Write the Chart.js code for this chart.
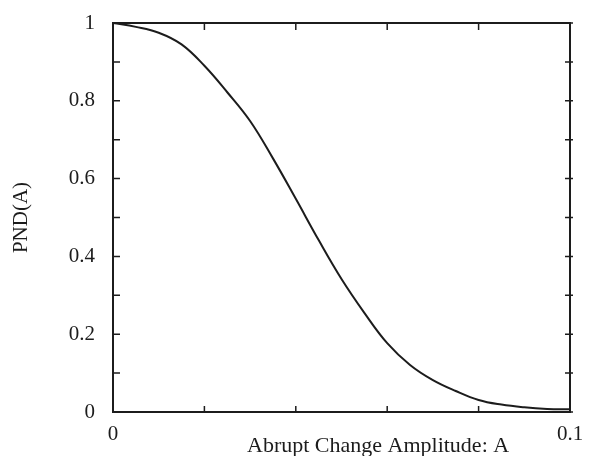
<!DOCTYPE html>
<html>
<head>
<meta charset="utf-8">
<script src="https://cdn.jsdelivr.net/npm/chart.js@4"></script>
<style>
  html, body { margin: 0; padding: 0; background: #fff; }
  #wrap { width: 596px; height: 456px; }
</style>
</head>
<body>
<div id="wrap"><canvas id="pndChart" width="596" height="456"></canvas></div>
<script>
// values
const amplitude = [0, 0.005, 0.01, 0.015, 0.02, 0.025, 0.03, 0.035, 0.04, 0.045, 0.05,
                   0.055, 0.06, 0.065, 0.07, 0.075, 0.08, 0.085, 0.09, 0.095, 0.1];
const pnd = [1.0, 0.99, 0.975, 0.945, 0.89, 0.822, 0.748, 0.652, 0.548, 0.442, 0.342,
             0.255, 0.177, 0.121, 0.082, 0.054, 0.031, 0.019, 0.012, 0.008, 0.007];
const xLabels = ['0', '0.1'];
const yTitle = 'PND(A)';
const xTitle = 'Abrupt Change Amplitude: A';

const ink = '#1c1c1c';
const serif = 'Liberation Serif, Times New Roman, serif';

// box frame, inward ticks and the offset x-axis title
const framePlugin = {
    id: 'frame',
    afterDraw(chart) {
        const ctx = chart.ctx;
        const a = chart.chartArea;
        const xs = chart.scales.x;
        const ys = chart.scales.y;
        ctx.save();
        ctx.strokeStyle = ink;
        ctx.lineWidth = 2;
        ctx.strokeRect(a.left, a.top, a.right - a.left, a.bottom - a.top);

        ctx.lineWidth = 1.5;
        ctx.beginPath();
        xs.ticks.forEach(t => {
            const px = xs.getPixelForValue(t.value);
            ctx.moveTo(px, a.bottom); ctx.lineTo(px, a.bottom - 6);
            ctx.moveTo(px, a.top); ctx.lineTo(px, a.top + 7);
        });
        ys.ticks.forEach(t => {
            const py = ys.getPixelForValue(t.value);
            ctx.moveTo(a.left, py); ctx.lineTo(a.left + 7, py);
            ctx.moveTo(a.right - 5, py); ctx.lineTo(a.right + 3, py);
        });
        ctx.stroke();

        ctx.fillStyle = ink;
        ctx.font = '22px ' + serif;
        ctx.textAlign = 'center';
        ctx.textBaseline = 'middle';
        ctx.fillText(xTitle, a.left + (a.right - a.left) * 0.58, 446);
        ctx.restore();
    }
};

const ctx = document.getElementById('pndChart').getContext('2d');
const pndChart = new Chart(ctx, {
    type: 'line',
    data: {
        datasets: [{
            data: amplitude.map((a, i) => ({ x: a, y: pnd[i] })),
            borderColor: ink,
            borderWidth: 2,
            pointRadius: 0,
            tension: 0.4,
            fill: false
        }]
    },
    options: {
        responsive: false,
        animation: false,
        layout: { padding: { top: 23, right: 26, left: 0, bottom: 0 } },
        plugins: { legend: { display: false }, tooltip: { enabled: false } },
        scales: {
            x: {
                type: 'linear',
                min: 0,
                max: 0.1,
                afterFit: s => { s.height = 44; },
                grid: { display: false, drawTicks: false },
                border: { display: false },
                ticks: {
                    stepSize: 0.02,
                    autoSkip: false,
                    maxRotation: 0,
                    padding: 10,
                    color: ink,
                    font: { family: serif, size: 21 },
                    callback: (v, i, ticks) => i === 0 ? xLabels[0] : (i === ticks.length - 1 ? xLabels[1] : '')
                }
            },
            y: {
                min: 0,
                max: 1,
                afterFit: s => { s.width = 113; s.paddingTop = 0; s.paddingBottom = 0; },
                grid: { display: false, drawTicks: false },
                border: { display: false },
                ticks: {
                    stepSize: 0.1,
                    autoSkip: false,
                    padding: 18,
                    color: ink,
                    font: { family: serif, size: 21 },
                    callback: (v, i) => i % 2 === 0 ? String(Number(v.toFixed(1))) : ''
                },
                title: {
                    display: true,
                    text: yTitle,
                    color: ink,
                    padding: { top: 9, bottom: 0 },
                    font: { family: serif, size: 21 }
                }
            }
        }
    },
    plugins: [framePlugin]
});
</script>
</body>
</html>
